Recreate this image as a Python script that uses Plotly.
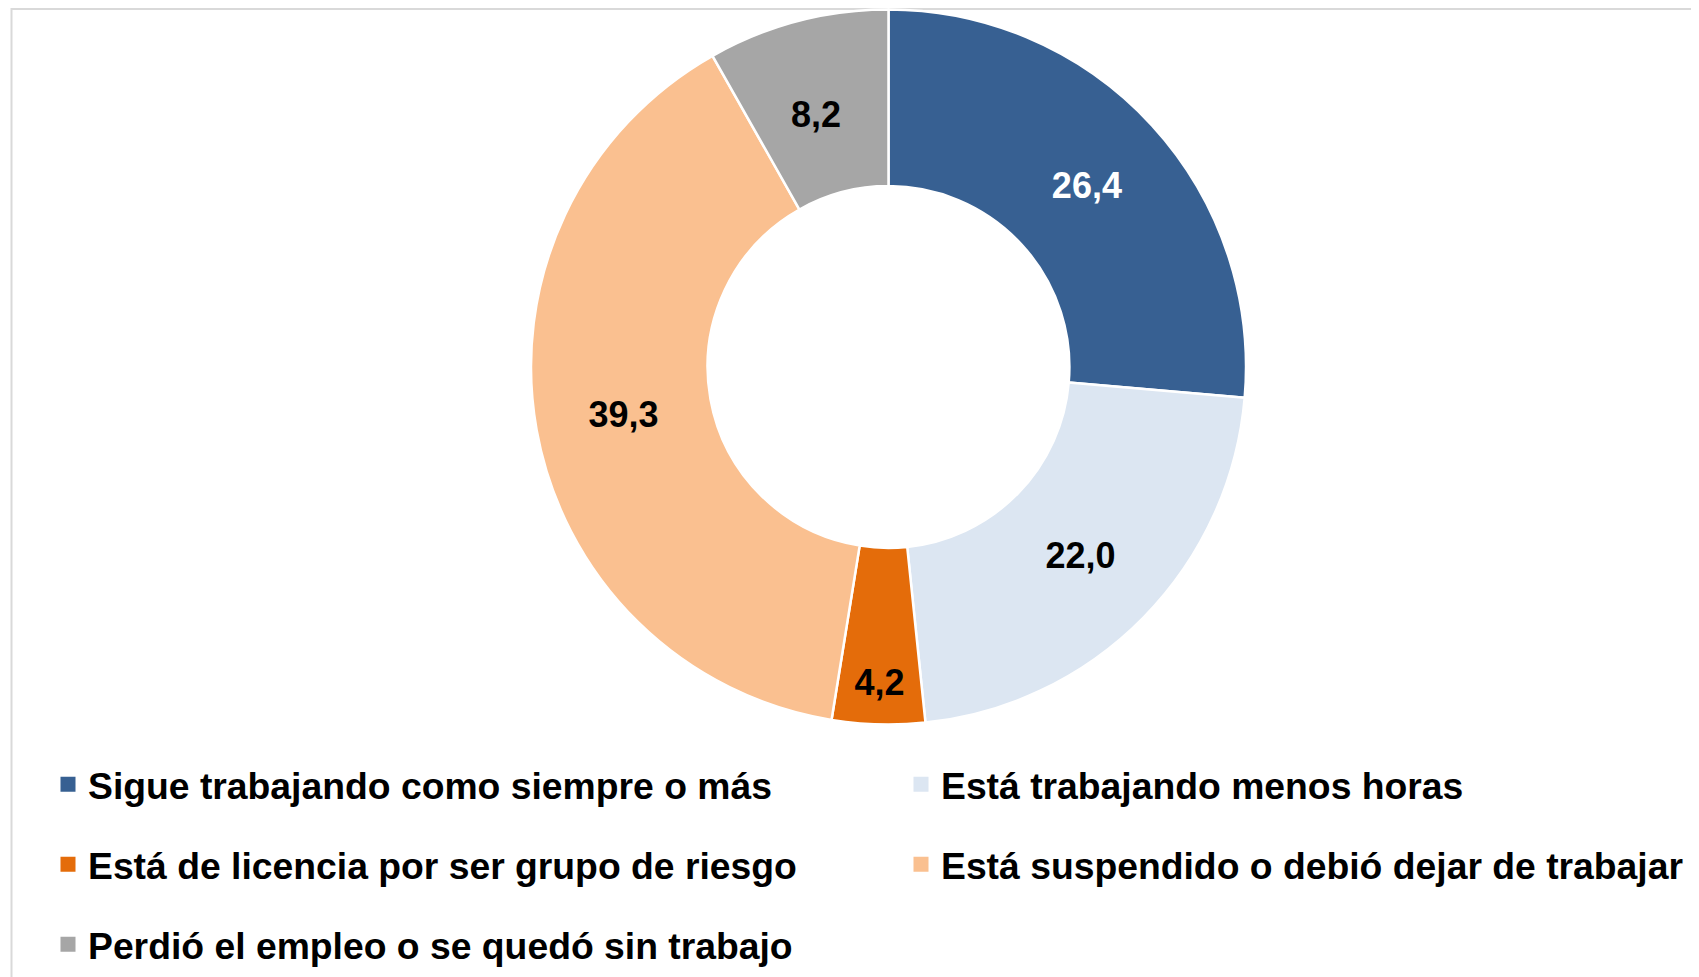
import plotly.graph_objects as go

categories = [
    "Sigue trabajando como siempre o más",
    "Está trabajando menos horas",
    "Está de licencia por ser grupo de riesgo",
    "Está suspendido o debió dejar de trabajar",
    "Perdió el empleo o se quedó sin trabajo",
]
values = [26.4, 22.0, 4.2, 39.3, 8.2]
value_labels = ["26,4", "22,0", "4,2", "39,3", "8,2"]
colors = ["#376092", "#DCE6F2", "#E46C0A", "#FAC090", "#A6A6A6"]
label_colors = ["#FFFFFF", "#000000", "#000000", "#000000", "#000000"]
legend_column = ["legend", "legend2", "legend", "legend2", "legend"]
# an empty first line nudges the small top label towards the ring centre
label_prefix = ["", "", "", "", "\u00a0<br>"]

# page has an 8px body margin, so the figure is drawn slightly smaller
W, H = 1691, 969
FONT = "Liberation Sans, Arial, sans-serif"

CX, CY, R = 880.5, 359.0, 357.5  # pie centre / radius in figure pixels

fig = go.Figure()
fig.add_trace(go.Pie(
    labels=categories,
    values=values,
    text=[p + t for p, t in zip(label_prefix, value_labels)],
    textinfo="text",
    textposition="inside",
    insidetextorientation="horizontal",
    textfont=dict(family=FONT, size=36, color=label_colors, weight="bold"),
    marker=dict(colors=colors, line=dict(color="#FFFFFF", width=2.5)),
    hole=0.506,
    sort=False,
    direction="clockwise",
    rotation=0,
    showlegend=False,
    hoverinfo="label+value",
    domain=dict(x=[(CX - R) / W, (CX + R) / W],
                y=[1 - (CY + R) / H, 1 - (CY - R) / H]),
))

for i, (name, col, lg) in enumerate(zip(categories, colors, legend_column)):
    fig.add_trace(go.Scatter(
        x=[None], y=[None], mode="markers", name=name,
        marker=dict(symbol="square", size=15, color=col),
        legend=lg, legendgroup=f"g{i}", showlegend=True,
        hoverinfo="skip",
    ))

legend_common = dict(
    orientation="v",
    font=dict(family=FONT, size=37.3, color="#000000", weight="bold"),
    bgcolor="rgba(0,0,0,0)",
    borderwidth=0,
    tracegroupgap=28.5,
    itemclick=False,
    itemdoubleclick=False,
    xanchor="left",
    yanchor="top",
    yref="paper",
    xref="paper",
)

LEG_TOP = 745.5
fig.update_layout(
    width=W,
    height=H,
    margin=dict(l=0, r=0, t=0, b=0),
    paper_bgcolor="#FFFFFF",
    plot_bgcolor="#FFFFFF",
    xaxis=dict(visible=False),
    yaxis=dict(visible=False),
    legend=dict(**legend_common, x=40 / W, y=1 - LEG_TOP / H),
    legend2=dict(**legend_common, x=893 / W, y=1 - LEG_TOP / H),
    shapes=[dict(
        type="rect", xref="paper", yref="paper",
        x0=3.5 / W, x1=1.02, y0=-0.02, y1=1 - 1 / H,
        line=dict(color="#D9D9D9", width=2), fillcolor="rgba(0,0,0,0)",
        layer="below",
    )],
)

fig.write_html("out.html")
